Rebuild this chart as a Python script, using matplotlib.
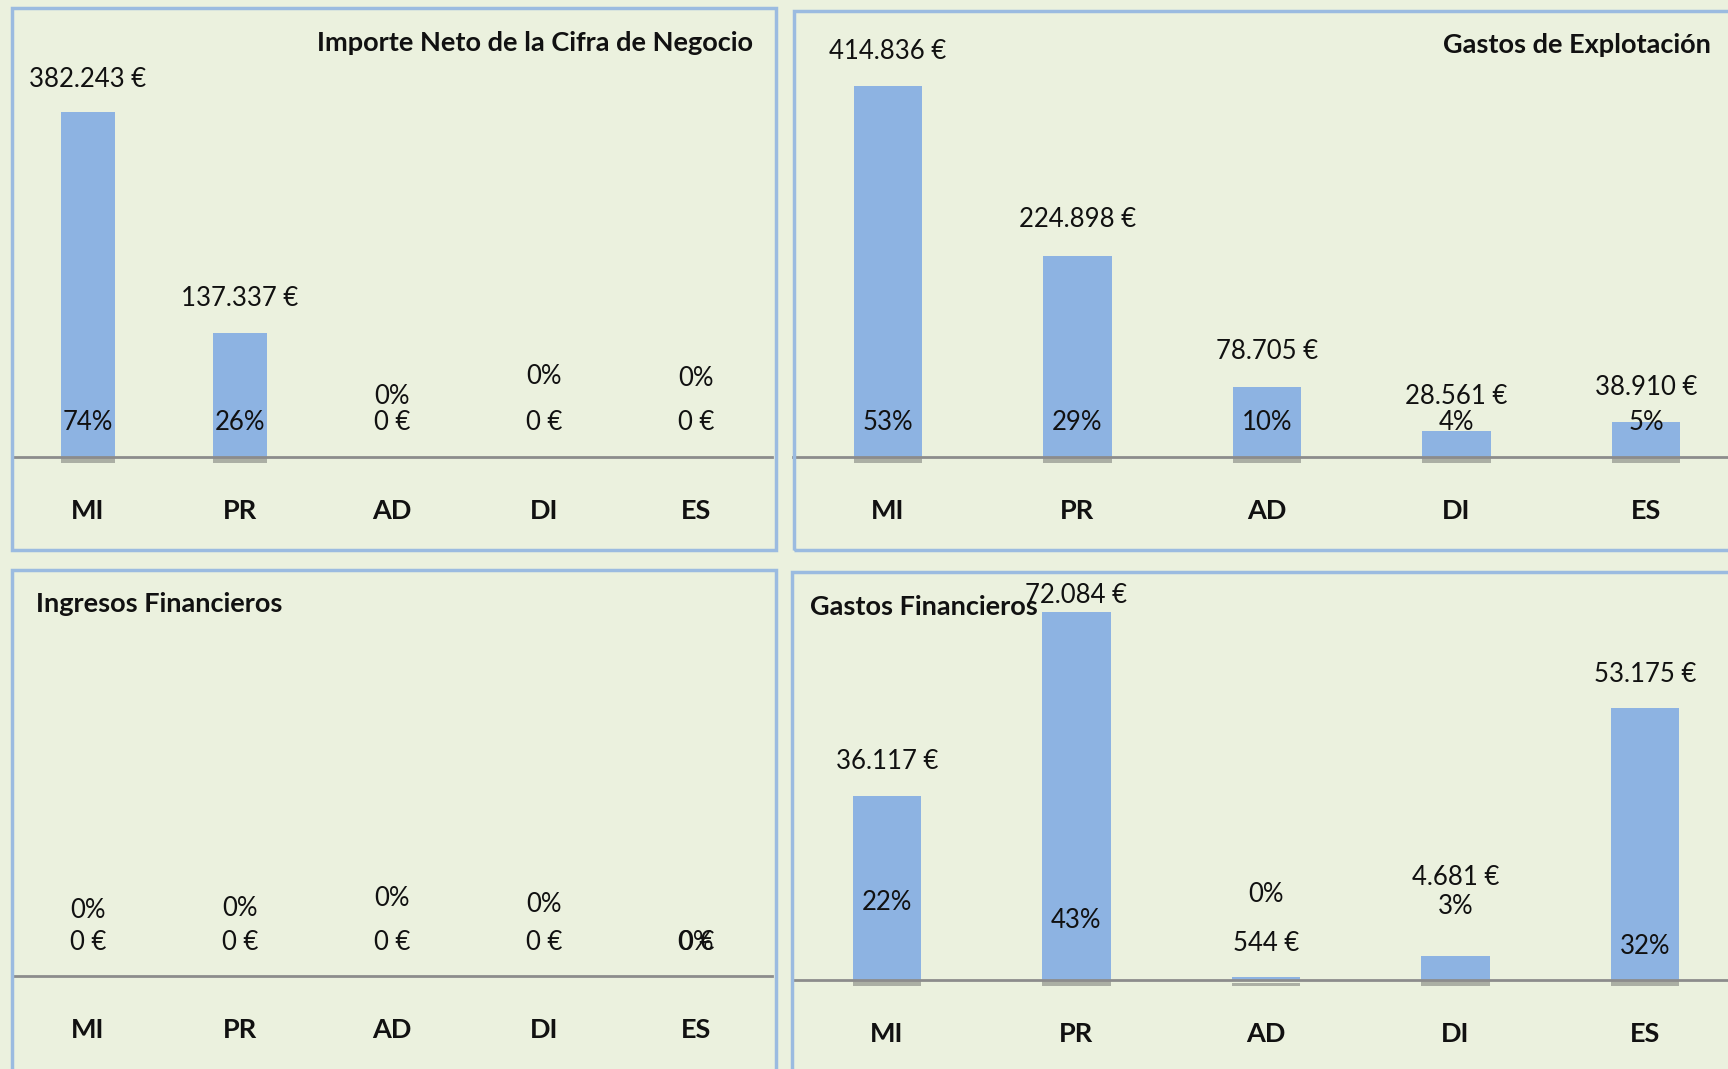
import matplotlib.pyplot as plt
import matplotlib.patheffects as pe
from matplotlib.patches import Rectangle

W, H = 1728, 1069

# datos
categorias = ['MI', 'PR', 'AD', 'DI', 'ES']
cifra_negocio = [382243, 137337, 0, 0, 0]
gastos_explotacion = [414836, 224898, 78705, 28561, 38910]
ingresos_financieros = [0, 0, 0, 0, 0]
gastos_financieros = [36117, 72084, 544, 4681, 53175]

titulos = ['Importe Neto de la Cifra de Negocio', 'Gastos de Explotación',
           'Ingresos Financieros', 'Gastos Financieros']

# layout de cada panel (pixeles)
paneles = [
    dict(datos=cifra_negocio, frame=(12, 8, 776, 550), ax=(12, 772, 8, 457), ymax=497500,
         tit=(753, 43, 'right'), off_val=[33, 35, 34, 34, 34], off_pct=[34, 34, 60, 81, 78]),
    dict(datos=gastos_explotacion, frame=(794, 11, 1760, 550), ax=(793, 1741, 11, 457), ymax=498700,
         tit=(1711, 45, 'right'), off_val=[35, 36, 35, 35, 35], off_pct=[34, 34, 34, 34, 34]),
    dict(datos=ingresos_financieros, frame=(12, 570, 776, 1080), ax=(12, 772, 570, 976), ymax=1,
         tit=(36, 604, 'left'), off_val=[33, 33, 33, 33, 34], off_pct=[66, 68, 78, 72, 34]),
    dict(datos=gastos_financieros, frame=(792, 572, 1760, 1090), ax=(792, 1740, 572, 980), ymax=79900,
         tit=(810, 607, 'left'), off_val=[34, 16, 34, 79, 34], off_pct=[77, 60, 86, 73, 34]),
]

plt.rcParams['font.family'] = ['Lato', 'DejaVu Sans']

fondo = '#EBF1DE'
azul_barra = '#8DB3E2'
borde = '#9BBBE0'
texto = '#111111'

fig = plt.figure(figsize=(W / 100, H / 100), dpi=100, facecolor=fondo)

for p, titulo in zip(paneles, titulos):
    fx0, fy0, fx1, fy1 = p['frame']
    fig.add_artist(Rectangle((fx0 / W, 1 - fy1 / H), (fx1 - fx0) / W, (fy1 - fy0) / H,
                             transform=fig.transFigure, fill=False, ec=borde, lw=2.5))

    x0, x1, top, base = p['ax']
    ax = fig.add_axes([x0 / W, 1 - base / H, (x1 - x0) / W, (base - top) / H])
    ax.set_facecolor('none')
    ax.set_xlim(-0.5, 4.5)
    ax.set_ylim(0, p['ymax'])

    vals = p['datos']
    total = sum(vals)
    bars = ax.bar(range(5), vals, width=0.36, color=azul_barra, clip_on=False, zorder=2)
    for b in bars:
        b.set_path_effects([pe.SimplePatchShadow(offset=(0, -4), shadow_rgbFace='#4d4d4d', alpha=0.4),
                            pe.Normal()])
    ax.axhline(0, color='#8C8C8C', lw=2, zorder=3, clip_on=False)

    for i, v in enumerate(vals):
        etiqueta = f"{v:,}".replace(',', '.') + " €"
        pct = round(v / total * 100) if total else 0
        ax.annotate(etiqueta, (i, v), xytext=(0, p['off_val'][i]), textcoords='offset pixels',
                    ha='center', va='center', fontsize=18.5, color=texto, zorder=4)
        ax.annotate(f"{pct}%", (i, 0), xytext=(0, p['off_pct'][i]), textcoords='offset pixels',
                    ha='center', va='center', fontsize=18.5, color=texto, zorder=4)

    tx, ty, ha = p['tit']
    fig.text(tx / W, 1 - ty / H, titulo, ha=ha, va='center', fontsize=19.5,
             fontweight='bold', color=texto)

    ax.set_xticks(range(5), categorias, fontsize=19.5, fontweight='bold', color=texto)
    ax.tick_params(length=0, pad=30)
    ax.set_yticks([])
    for s in ax.spines.values():
        s.set_visible(False)

fig.savefig('out.png', dpi=100, facecolor=fondo)
